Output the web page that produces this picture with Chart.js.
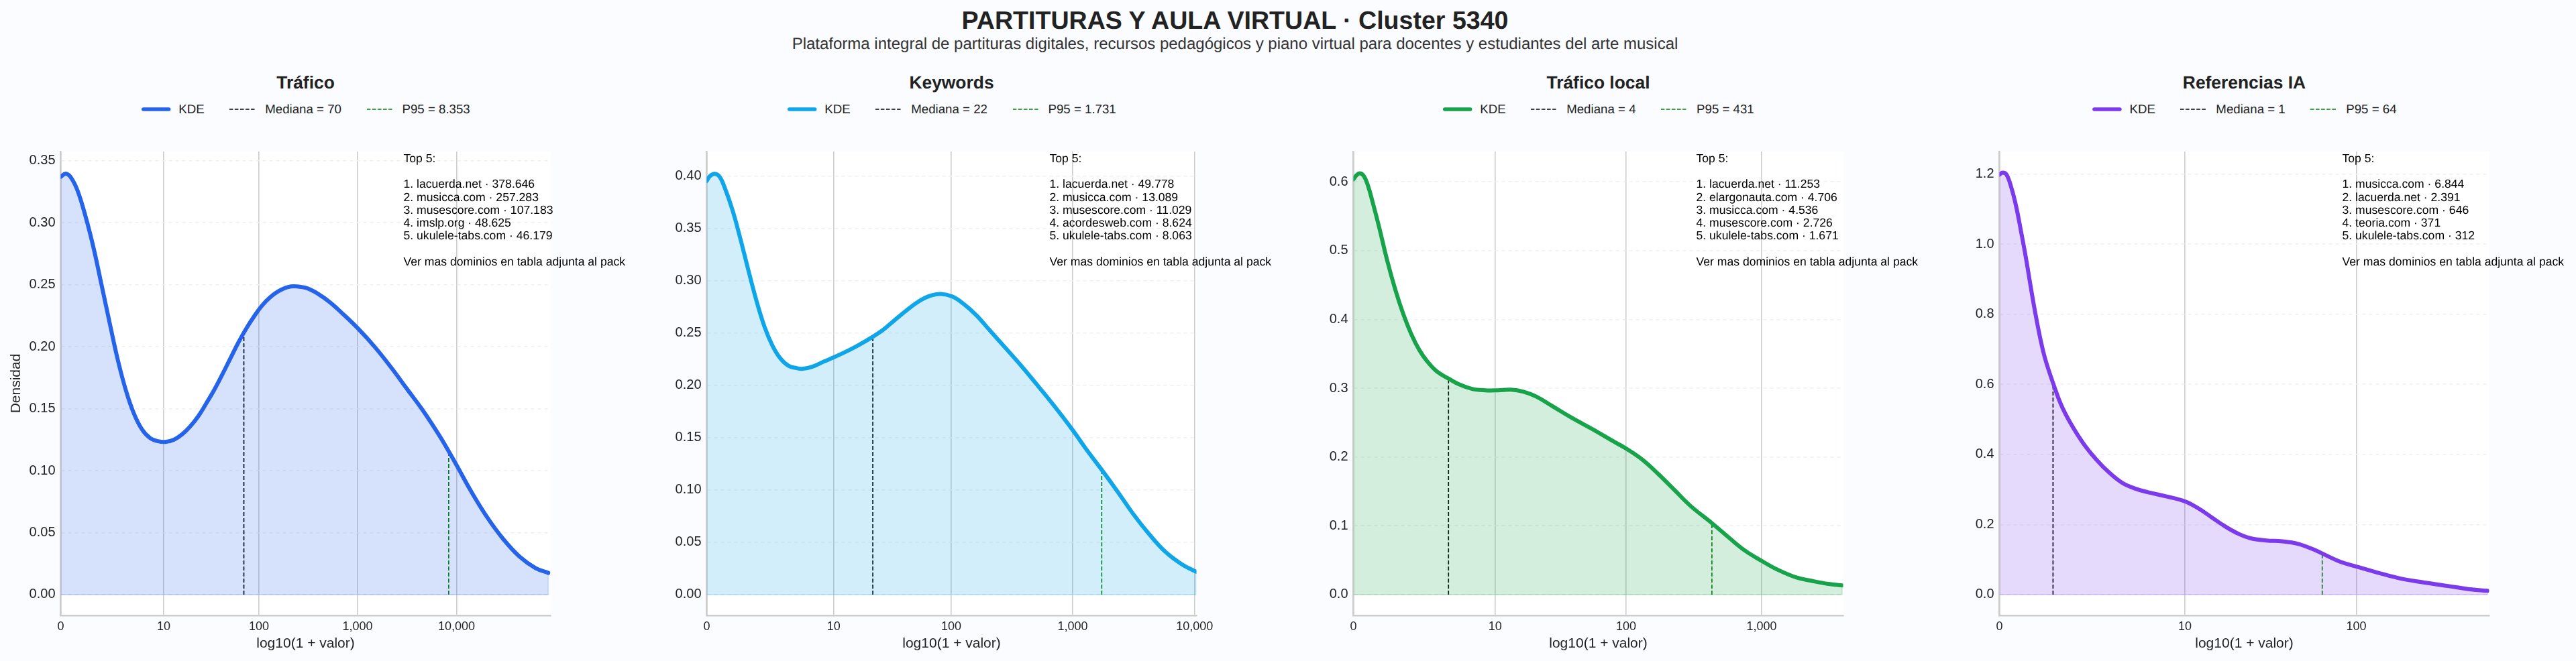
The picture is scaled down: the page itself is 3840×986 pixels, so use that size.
<!DOCTYPE html>
<html lang="es">
<head>
  <meta charset="UTF-8">
  <title>PARTITURAS Y AULA VIRTUAL · Cluster 5340</title>
  <script src="https://cdn.jsdelivr.net/npm/chart.js@4"></script>
  <style>
    html, body { margin: 0; background: #fafcff; font-family: "Liberation Sans", Arial, sans-serif; color: #222; text-rendering: geometricPrecision; }
    body { position: relative; width: 3840px; height: 986px; overflow: hidden; }
    canvas { position: absolute; top: 206px; }
    .center { position: absolute; transform: translateX(-50%); white-space: nowrap; text-align: center; }
    #mainTitle { left: 1841px; top: 8px; font-size: 37.6px; line-height: 44px; font-weight: bold; }
    #subTitle { left: 1841px; top: 52px; font-size: 24px; line-height: 28px; color: #333; }
    .panelTitle { top: 107px; font-size: 26.4px; line-height: 32px; font-weight: bold; }
    .legend { top: 152px; height: 22px; display: flex; align-items: center; font-size: 18.7px; }
    .legend svg { display: block; }
    .legend span { margin-right: 37.5px; }
    .legend span:last-child { margin-right: 0; }
    .top5 { position: absolute; top: 227px; font-size: 17.6px; line-height: 19.2px; color: #000; white-space: pre; }
  </style>
</head>
<body>
  <div id="mainTitle" class="center">PARTITURAS Y AULA VIRTUAL · Cluster 5340</div>
  <div id="subTitle" class="center">Plataforma integral de partituras digitales, recursos pedagógicos y piano virtual para docentes y estudiantes del arte musical</div>

  <script>
    const titles = ['Tráfico', 'Keywords', 'Tráfico local', 'Referencias IA'];
    const colors = ['#2563eb', '#0ea5e9', '#16a34a', '#7c3aed'];
    const fills = ['rgba(37,99,235,0.19)', 'rgba(14,165,233,0.19)', 'rgba(22,163,74,0.19)', 'rgba(124,58,237,0.19)'];

    const medians = [70, 22, 4, 1];
    const p95s = [8353, 1731, 431, 64];
    const medianLabels = ['Mediana = 70', 'Mediana = 22', 'Mediana = 4', 'Mediana = 1'];
    const p95Labels = ['P95 = 8.353', 'P95 = 1.731', 'P95 = 431', 'P95 = 64'];
    const medianTops = [0.208, 0.2467, 0.3137, 0.608];
    const p95Tops = [0.115, 0.1192, 0.105, 0.1172];

    // x is log10(1 + valor), y is density
    const traficoX = [0, .052, .107, .172, .253, .334, .416, .497, .578, .659, .74, .821, .903, .984, 1.065, 1.146, 1.227, 1.308, 1.39, 1.471, 1.552, 1.633, 1.714, 1.795, 1.877, 1.958, 2.039, 2.12, 2.201, 2.299, 2.386, 2.494, 2.607, 2.721, 2.851, 3.003, 3.175, 3.338, 3.5, 3.662, 3.825, 3.929, 4.003, 4.149, 4.312, 4.474, 4.636, 4.799, 4.929];
    const traficoY = [.337, .3395, .336, .3255, .3045, .279, .2486, .2183, .189, .1647, .146, .1333, .1263, .1237, .1232, .125, .1293, .1356, .1438, .1542, .1652, .1775, .1904, .2032, .2148, .2248, .2335, .24, .2447, .2481, .2486, .247, .2423, .2358, .2265, .2148, .1997, .1834, .1659, .1484, .1286, .1146, .1042, .0832, .0622, .0447, .0308, .0214, .0175];

    const keywordsX = [0, .026, .066, .105, .145, .211, .276, .342, .408, .474, .539, .605, .671, .737, .789, .868, .961, 1.045, 1.132, 1.237, 1.366, 1.447, 1.526, 1.632, 1.737, 1.829, 1.921, 2.013, 2.105, 2.211, 2.316, 2.447, 2.579, 2.711, 2.842, 3.005, 3.105, 3.239, 3.368, 3.5, 3.632, 3.763, 3.895, 4.013];
    const keywordsY = [.3953, .3999, .4021, .3994, .3897, .3676, .34, .3097, .2807, .2559, .2379, .2255, .2186, .2164, .2158, .2178, .2227, .2269, .2316, .2379, .2467, .2531, .2608, .271, .2801, .2854, .2873, .2848, .2779, .2669, .2531, .236, .2186, .2001, .1813, .1565, .1399, .1192, .0985, .0765, .0571, .0406, .029, .0218];

    const localX = [0, .024, .047, .076, .106, .142, .189, .248, .307, .366, .425, .484, .543, .614, .701, .779, .873, .968, 1.062, 1.156, 1.251, 1.345, 1.463, 1.605, 1.77, 1.912, 2.006, 2.124, 2.242, 2.36, 2.478, 2.636, 2.761, 2.879, 3.0, 3.115, 3.257, 3.375, 3.493, 3.592];
    const localY = [.6035, .6098, .6124, .6086, .5951, .57, .5342, .4859, .4439, .4082, .3788, .3557, .3389, .3242, .3137, .3053, .299, .2969, .2969, .2978, .2948, .2877, .2738, .257, .239, .2226, .2121, .1961, .1751, .152, .1289, .1037, .0827, .0638, .0491, .0365, .0248, .0197, .0155, .0134];

    const iaX = [0, .018, .04, .067, .094, .121, .148, .175, .202, .229, .256, .301, .346, .4, .472, .544, .616, .688, .76, .832, .94, 1.043, 1.12, 1.192, 1.264, 1.336, 1.408, 1.498, 1.588, 1.678, 1.768, 1.813, 1.912, 2.004, 2.129, 2.255, 2.381, 2.525, 2.633, 2.741];
    const iaY = [1.198, 1.2037, 1.198, 1.1608, 1.1072, 1.037, .9628, .8803, .8019, .7318, .674, .6039, .542, .4884, .4307, .3853, .3482, .3193, .3028, .2921, .2797, .2657, .245, .2203, .1955, .1749, .1609, .1543, .1518, .1444, .1279, .1172, .0941, .08, .0619, .0454, .0347, .0239, .0157, .0107];

    const curvesX = [traficoX, keywordsX, localX, iaX];
    const curvesY = [traficoY, keywordsY, localY, iaY];

    const xTickValues = [[0, 10, 100, 1000, 10000], [0, 10, 100, 1000, 10000], [0, 10, 100, 1000], [0, 10, 100]];
    const xTickLabels = [['0', '10', '100', '1,000', '10,000'], ['0', '10', '100', '1,000', '10,000'], ['0', '10', '100', '1,000'], ['0', '10', '100']];
    const xMaxes = [4.95, 4.015, 3.6, 2.75];

    const yTickValues = [
      [0, .05, .1, .15, .2, .25, .3, .35],
      [0, .05, .1, .15, .2, .25, .3, .35, .4],
      [0, .1, .2, .3, .4, .5, .6],
      [0, .2, .4, .6, .8, 1, 1.2]
    ];
    const yDecimals = [2, 2, 1, 1];
    const yMins = [-.0168, -.0199, -.0303, -.0595];
    const yMaxes = [.3574, .4234, .644, 1.264];

    const top5 = [
      ['1. lacuerda.net · 378.646', '2. musicca.com · 257.283', '3. musescore.com · 107.183', '4. imslp.org · 48.625', '5. ukulele-tabs.com · 46.179'],
      ['1. lacuerda.net · 49.778', '2. musicca.com · 13.089', '3. musescore.com · 11.029', '4. acordesweb.com · 8.624', '5. ukulele-tabs.com · 8.063'],
      ['1. lacuerda.net · 11.253', '2. elargonauta.com · 4.706', '3. musicca.com · 4.536', '4. musescore.com · 2.726', '5. ukulele-tabs.com · 1.671'],
      ['1. musicca.com · 6.844', '2. lacuerda.net · 2.391', '3. musescore.com · 646', '4. teoria.com · 371', '5. ukulele-tabs.com · 312']
    ];
    const topNote = 'Ver mas dominios en tabla adjunta al pack';

    // layout, in page pixels
    const canvasLefts = [0, 963, 1927, 2890];
    const plotOffset = 90.5;
    const plotWidth = 730;
    const canvasWidth = 960;
    const canvasHeight = 780;

    const toLog = v => Math.log10(1 + v);

    const plotBackground = {
      id: 'plotBackground',
      beforeDraw(chart) {
        const a = chart.chartArea;
        chart.ctx.fillStyle = '#ffffff';
        chart.ctx.fillRect(a.left, a.top, a.width, a.height);
      }
    };

    function addDiv(className, text, left) {
      const d = document.createElement('div');
      d.className = className;
      d.textContent = text;
      d.style.left = left + 'px';
      document.body.appendChild(d);
      return d;
    }

    function handle(width, color, lineWidth, dashed) {
      const cap = dashed ? 'butt' : 'round';
      const dash = dashed ? 'stroke-dasharray="5.6 2.5"' : '';
      const pad = dashed ? 0 : 3;
      return `<svg width="${width + pad * 2}" height="10" style="margin-right:${dashed ? 15 : 12}px"><line x1="${pad}" y1="5" x2="${width + pad}" y2="5" stroke="${color}" stroke-width="${lineWidth}" stroke-linecap="${cap}" ${dash}/></svg>`;
    }

    titles.forEach((title, i) => {
      const center = canvasLefts[i] + plotOffset + plotWidth / 2;
      addDiv('center panelTitle', title, center);

      const legend = addDiv('center legend', '', center);
      legend.innerHTML =
        handle(38, colors[i], 5.5, false) + '<span>KDE</span>' +
        handle(38, '#000000', 1.7, true) + `<span>${medianLabels[i]}</span>` +
        handle(38, '#008000', 1.7, true) + `<span>${p95Labels[i]}</span>`;

      const box = addDiv('top5', ['Top 5:', '', ...top5[i], '', topNote].join('\n'), canvasLefts[i] + plotOffset + plotWidth * 0.7);
      box.style.zIndex = 2;

      const canvas = document.createElement('canvas');
      canvas.width = canvasWidth;
      canvas.height = canvasHeight;
      canvas.style.left = canvasLefts[i] + 'px';
      document.body.appendChild(canvas);

      const xs = curvesX[i];
      const ys = curvesY[i];
      const last = xs.length - 1;

      new Chart(canvas.getContext('2d'), {
        type: 'line',
        plugins: [plotBackground],
        data: {
          datasets: [
            {
              label: 'KDE',
              data: xs.map((x, k) => ({ x, y: ys[k] })),
              borderColor: colors[i],
              borderWidth: 6,
              borderCapStyle: 'round',
              borderJoinStyle: 'round',
              backgroundColor: fills[i],
              fill: { value: 0 },
              tension: 0.4,
              pointRadius: 0
            },
            {
              label: medianLabels[i],
              data: [{ x: toLog(medians[i]), y: 0 }, { x: toLog(medians[i]), y: medianTops[i] }],
              borderColor: '#000000',
              borderWidth: 1.7,
              borderDash: [6, 3],
              pointRadius: 0
            },
            {
              label: p95Labels[i],
              data: [{ x: toLog(p95s[i]), y: 0 }, { x: toLog(p95s[i]), y: p95Tops[i] }],
              borderColor: '#008000',
              borderWidth: 1.7,
              borderDash: [6, 3],
              pointRadius: 0
            },
            {
              label: 'borde',
              data: [{ x: 0, y: 0 }, { x: xs[last], y: 0 }, { x: xs[last], y: ys[last] }],
              borderColor: fills[i],
              borderWidth: 2,
              pointRadius: 0
            }
          ]
        },
        options: {
          responsive: false,
          animation: false,
          devicePixelRatio: 1,
          layout: { padding: { top: 16, right: canvasWidth - plotOffset - plotWidth, left: 0, bottom: 0 } },
          plugins: { legend: { display: false }, title: { display: false }, tooltip: { enabled: false } },
          scales: {
            x: {
              type: 'linear',
              min: 0,
              max: xMaxes[i],
              afterFit: axis => { axis.height = 68; },
              afterBuildTicks: axis => { axis.ticks = xTickValues[i].map(v => ({ value: toLog(v) })); },
              grid: { color: '#cdcdcd', lineWidth: 1.6, drawTicks: false },
              border: { color: '#cccccc', width: 2.5 },
              ticks: {
                autoSkip: false,
                maxRotation: 0,
                padding: 6,
                color: '#222222',
                font: { family: 'Liberation Sans', size: 18 },
                callback: (value, index) => xTickLabels[i][index]
              },
              title: {
                display: true,
                text: 'log10(1 + valor)',
                color: '#222222',
                font: { family: 'Liberation Sans', size: 21 },
                padding: { top: 0, bottom: 13 }
              }
            },
            y: {
              min: yMins[i],
              max: yMaxes[i],
              afterFit: axis => { axis.width = plotOffset; },
              afterBuildTicks: axis => { axis.ticks = yTickValues[i].map(v => ({ value: v })); },
              grid: { color: '#f0f0f0', lineWidth: 1.6, drawTicks: false },
              border: { color: '#cccccc', width: 2.5, dash: [5, 5] },
              ticks: {
                autoSkip: false,
                padding: 8,
                color: '#222222',
                font: { family: 'Liberation Sans', size: 20 },
                callback: value => value.toFixed(yDecimals[i])
              },
              title: {
                display: i === 0,
                text: 'Densidad',
                color: '#222222',
                font: { family: 'Liberation Sans', size: 21 },
                padding: { top: 12, bottom: 0 }
              }
            }
          }
        }
      });
    });
  </script>
</body>
</html>
